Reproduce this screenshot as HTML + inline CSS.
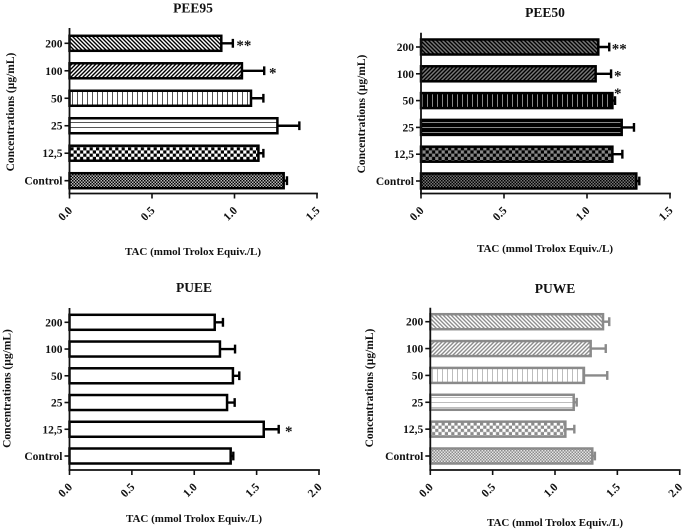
<!DOCTYPE html>
<html lang="en">
<head>
<meta charset="utf-8">
<title>Total antioxidant capacity charts</title>
<style>
html,body{margin:0;padding:0;background:#fff;width:685px;height:531px;overflow:hidden}
svg{display:block;filter:blur(0.35px)}
text{font-family:"Liberation Serif",serif;font-weight:bold;fill:#111}
</style>
</head>
<body>
<svg id="figure" xmlns="http://www.w3.org/2000/svg" width="685" height="531" viewBox="0 0 685 531">
<defs id="defs"></defs>
</svg>
<script>
// ---- data ----
const categories = ["200", "100", "50", "25", "12,5", "Control"];
const patternKinds = ["back", "fwd", "vert", "horiz", "check", "fine"];
const xTitle = "TAC (mmol Trolox Equiv./L)";
const yTitle = "Concentrations (µg/mL)";

const pee95Values = [0.92, 1.045, 1.10, 1.26, 1.145, 1.298];
const pee95Upper = [0.99, 1.18, 1.175, 1.393, 1.175, 1.318];
const pee95Stars = ["**", "*", "", "", "", ""];
const pee95Ticks = [0, 0.5, 1, 1.5];

const pee50Values = [1.068, 1.052, 1.153, 1.209, 1.153, 1.297];
const pee50Upper = [1.134, 1.145, 1.169, 1.283, 1.213, 1.315];
const pee50Stars = ["**", "*", "*", "", "", ""];
const pee50Ticks = [0, 0.5, 1, 1.5];

const pueeValues = [1.164, 1.206, 1.31, 1.263, 1.557, 1.292];
const pueeUpper = [1.23, 1.327, 1.361, 1.324, 1.677, 1.313];
const pueeStars = ["", "", "", "", "*", ""];
const pueeTicks = [0, 0.5, 1, 1.5, 2];

const puweValues = [1.385, 1.286, 1.232, 1.15, 1.083, 1.299];
const puweUpper = [1.435, 1.407, 1.419, 1.174, 1.155, 1.32];
const puweStars = ["", "", "", "", "", ""];
const puweTicks = [0, 0.5, 1, 1.5, 2];

// ---- drawing ----
const NS = "http://www.w3.org/2000/svg";
const root = document.getElementById("figure");
const defs = document.getElementById("defs");

function make(tag, attrs, parent) {
  const node = document.createElementNS(NS, tag);
  for (const k in attrs) node.setAttribute(k, attrs[k]);
  if (parent) parent.appendChild(node);
  return node;
}

function definePatterns(prefix, p) {
  const add = (kind, size) => {
    const pat = make("pattern", {id: prefix + "-" + kind, patternUnits: "userSpaceOnUse", width: size, height: size}, defs);
    return pat;
  };
  let pat = add("back", 4);
  make("rect", {width: 4, height: 4, fill: p.bg}, pat);
  make("path", {d: "M0,0L4,4M-1,3L1,5M3,-1L5,1", stroke: p.fg, "stroke-width": 1.4, fill: "none"}, pat);
  pat = add("fwd", 4);
  make("rect", {width: 4, height: 4, fill: p.bg}, pat);
  make("path", {d: "M0,4L4,0M-1,1L1,-1M3,5L5,3", stroke: p.fg, "stroke-width": 1.4, fill: "none"}, pat);
  pat = add("vert", 5);
  make("rect", {width: 5, height: 5, fill: p.lineBg}, pat);
  make("rect", {x: 2, width: 1, height: 5, fill: p.line}, pat);
  pat = add("horiz", 5);
  make("rect", {width: 5, height: 5, fill: p.lineBg}, pat);
  make("rect", {y: 2, width: 5, height: 1, fill: p.line}, pat);
  pat = add("check", 6.4);
  make("rect", {width: 6.4, height: 6.4, fill: p.checkBg}, pat);
  make("rect", {width: 3.2, height: 3.2, fill: p.fg}, pat);
  make("rect", {x: 3.2, y: 3.2, width: 3.2, height: 3.2, fill: p.fg}, pat);
  pat = add("fine", 3);
  make("rect", {width: 3, height: 3, fill: p.fineBg}, pat);
  make("rect", {width: 1.5, height: 1.5, fill: p.fg}, pat);
  make("rect", {x: 1.5, y: 1.5, width: 1.5, height: 1.5, fill: p.fg}, pat);
}

definePatterns("p1", {fg: "#000", bg: "#fff", line: "#555", lineBg: "#fff", checkBg: "#fff", fineBg: "#bbb"});
definePatterns("p2", {fg: "#000", bg: "#777", line: "#888", lineBg: "#000", checkBg: "#888", fineBg: "#777"});
definePatterns("p4", {fg: "#8c8c8c", bg: "#fff", line: "#bdbdbd", lineBg: "#fff", checkBg: "#fff", fineBg: "#e4e4e4"});

function drawPanel(cfg) {
  const g = make("g", {}, root);
  
  

  const maxTick = cfg.ticks[cfg.ticks.length - 1];
  const xScale = v => cfg.x0 + (v / maxTick) * (cfg.x1 - cfg.x0);
  const yScale = i => cfg.yFirst + i * (cfg.yLast - cfg.yFirst) / (categories.length - 1);
  const barH = 15;

  cfg.values.forEach((v, i) => {
    const y = yScale(i);
    const err = make("path", {
      d: "M" + xScale(v) + "," + y + "H" + xScale(cfg.upper[i]) +
         "M" + xScale(cfg.upper[i]) + "," + (y - 4.4) + "V" + (y + 4.4),
      stroke: cfg.color, "stroke-width": 2.4, fill: "none"
    }, g);
    
    

    const bar = make("rect", {
      x: cfg.x0, y: y - barH / 2, width: xScale(v) - cfg.x0, height: barH,
      fill: cfg.pattern ? "url(#" + cfg.pattern + "-" + patternKinds[i] + ")" : "#fff",
      stroke: cfg.color, "stroke-width": 2.5
    }, g);
    
    

    if (cfg.stars[i]) {
      const nudge = cfg.starNudge[i] || [10, 0];
      const star = make("text", {
        x: xScale(cfg.upper[i]) + nudge[0], y: y + 6.5 + nudge[1],
        "text-anchor": "middle", "font-size": 15
      }, g);
      star.textContent = cfg.stars[i];
      
      
    }

    const tick = make("line", {x1: cfg.x0 - 5, x2: cfg.x0, y1: y, y2: y, stroke: "#111", "stroke-width": 1.6}, g);
    
    

    const label = make("text", {x: cfg.x0 - 7, y: y + 4, "text-anchor": "end", "font-size": 11.5}, g);
    label.textContent = categories[i];
    
    
  });

  const yAxis = make("line", {x1: cfg.x0, x2: cfg.x0, y1: cfg.yTop, y2: cfg.base + 0.9, stroke: "#111", "stroke-width": 1.8}, g);
  
  

  const xAxis = make("line", {x1: cfg.x0 - 0.9, x2: cfg.x1 + 0.9, y1: cfg.base, y2: cfg.base, stroke: "#111", "stroke-width": 1.8}, g);
  
  

  cfg.ticks.forEach(t => {
    const px = xScale(t);
    const tick = make("line", {x1: px, x2: px, y1: cfg.base, y2: cfg.base + 5, stroke: "#111", "stroke-width": 1.6}, g);
    
    

    const cx = px - 4.5;
    const cy = cfg.base + 20;
    const label = make("text", {
      x: cx, y: cy + 4, "text-anchor": "middle", "font-size": 11.5,
      transform: "rotate(-45 " + cx + " " + cy + ")"
    }, g);
    label.textContent = t.toFixed(1);
    
    
  });

  const title = make("text", {x: cfg.titleX, y: cfg.titleY, "text-anchor": "middle", "font-size": 13.5}, g);
  title.textContent = cfg.title;
  
  

  const xt = make("text", {x: cfg.xTitleX, y: cfg.xTitleY, "text-anchor": "middle", "font-size": 11}, g);
  xt.textContent = xTitle;
  
  

  const yt = make("text", {
    x: cfg.yTitleX, y: cfg.yTitleY, "text-anchor": "middle", "font-size": 11.5,
    transform: "rotate(-90 " + cfg.yTitleX + " " + cfg.yTitleY + ")"
  }, g);
  yt.textContent = yTitle;
  
  
}

drawPanel({
  name: "pee95", title: "PEE95", values: pee95Values, upper: pee95Upper, stars: pee95Stars, ticks: pee95Ticks,
  x0: 69.5, x1: 317, base: 193.5, yTop: 28, yFirst: 43.3, yLast: 180.7,
  color: "#000", pattern: "p1", starNudge: [[11, 0], [8.5, 0]],
  titleX: 193, titleY: 12.5, xTitleX: 193, xTitleY: 255, yTitleX: 14, yTitleY: 112
});
drawPanel({
  name: "pee50", title: "PEE50", values: pee50Values, upper: pee50Upper, stars: pee50Stars, ticks: pee50Ticks,
  x0: 421, x1: 670, base: 193.5, yTop: 32.7, yFirst: 47, yLast: 181,
  color: "#000", pattern: "p2", starNudge: [[10, 0], [6.7, 0], [2.7, -9]],
  titleX: 545, titleY: 17, xTitleX: 545, xTitleY: 252, yTitleX: 365, yTitleY: 114
});
drawPanel({
  name: "puee", title: "PUEE", values: pueeValues, upper: pueeUpper, stars: pueeStars, ticks: pueeTicks,
  x0: 69.5, x1: 319, base: 470, yTop: 308, yFirst: 322.3, yLast: 456,
  color: "#000", pattern: null, starNudge: [],
  titleX: 194, titleY: 292, xTitleX: 194, xTitleY: 522, yTitleX: 10.5, yTitleY: 388.5
});
drawPanel({
  name: "puwe", title: "PUWE", values: puweValues, upper: puweUpper, stars: puweStars, ticks: puweTicks,
  x0: 430.3, x1: 679.7, base: 470, yTop: 307.7, yFirst: 321.7, yLast: 456,
  color: "#8a8a8a", pattern: "p4", starNudge: [],
  titleX: 555, titleY: 293, xTitleX: 555, xTitleY: 526, yTitleX: 373, yTitleY: 388
});
</script>
</body>
</html>
